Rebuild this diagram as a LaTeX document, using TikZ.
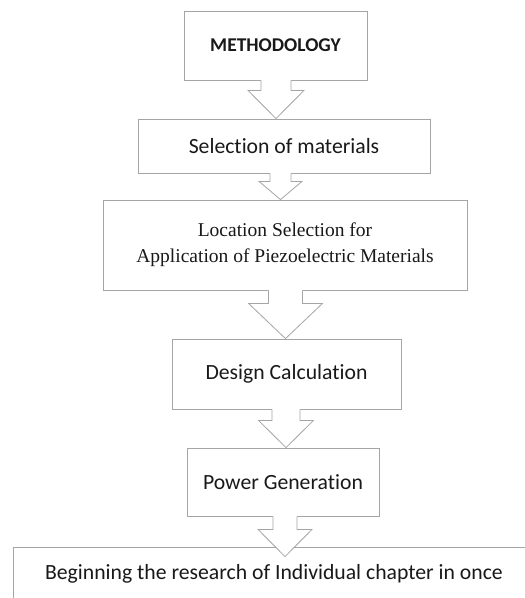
\documentclass[tikz,border=0pt]{standalone}
\usepackage{fontspec}
\setmainfont[Ligatures=NoCommon]{Carlito}
\newfontfamily\serifface{Liberation Serif}
\usetikzlibrary{calc}
\definecolor{edgegray}{RGB}{165,165,165}
\definecolor{inkblack}{RGB}{25,25,25}
\tikzset{
  stagebox/.style={draw=edgegray, line width=0.8pt, rectangle, inner sep=0pt,
    text=inkblack, font=\fontsize{21.7}{26}\selectfont, align=center},
  arrowline/.style={draw=edgegray, line width=0.8pt, line join=miter},
}
% #1 from node, #2 to node, #3 centre x, #4 shaft half width, #5 head half width, #6 shaft length, #7 tip overshoot
\newcommand\blockarr[7]{%
  \fill[white] let \p1=(#1.south), \p2=(#2.north) in
    (#3pt-#4pt,\y1+1pt) -- (#3pt-#4pt,\y1-#6pt) -- (#3pt-#5pt,\y1-#6pt) -- (#3pt,\y2-#7pt)
    -- (#3pt+#5pt,\y1-#6pt) -- (#3pt+#4pt,\y1-#6pt) -- (#3pt+#4pt,\y1+1pt) -- cycle;
  \draw[arrowline] let \p1=(#1.south), \p2=(#2.north) in
    (#3pt-#4pt,\y1) -- (#3pt-#4pt,\y1-#6pt) -- (#3pt-#5pt,\y1-#6pt) -- (#3pt,\y2-#7pt)
    -- (#3pt+#5pt,\y1-#6pt) -- (#3pt+#4pt,\y1-#6pt) -- (#3pt+#4pt,\y1);
}
\begin{document}
\begin{tikzpicture}[x=1pt,y=-1pt]
\useasboundingbox (0,0) rectangle (525,598);
\fill[white] (0,0) rectangle (525,598);
\begin{scope}
\clip (0,0) rectangle (525,598);
\node[stagebox, minimum width=183pt, minimum height=69pt, font=\fontsize{19.5}{22}\selectfont\bfseries] (b1) at (275.5,45.5) {METHODOLOGY};
\node[stagebox, minimum width=292pt, minimum height=54pt] (b2) at (284,146) {Selection of materials};
\node[stagebox, minimum width=364pt, minimum height=90pt, font=\serifface\fontsize{19.5}{26}\selectfont] (b3) at (285,245) {Location Selection for\\Application of Piezoelectric Materials};
\node[stagebox, minimum width=229pt, minimum height=70pt] (b4) at (286.5,374) {Design Calculation};
\node[stagebox, minimum width=192pt, minimum height=68pt] (b5) at (283,482) {Power Generation};
\blockarr{b1}{b2}{276}{15}{28}{10}{0}
\blockarr{b2}{b3}{280.5}{10.5}{21.5}{8}{0}
\blockarr{b3}{b4}{285.5}{17}{37}{13}{0}
\blockarr{b4}{b5}{286}{14}{27.5}{11}{0}
\node[stagebox, minimum width=522pt, minimum height=53pt] (b6) at (274,573.5) {Beginning the research of Individual chapter in once};
\blockarr{b5}{b6}{285}{12}{27}{13}{10}
\end{scope}
\end{tikzpicture}
\end{document}
